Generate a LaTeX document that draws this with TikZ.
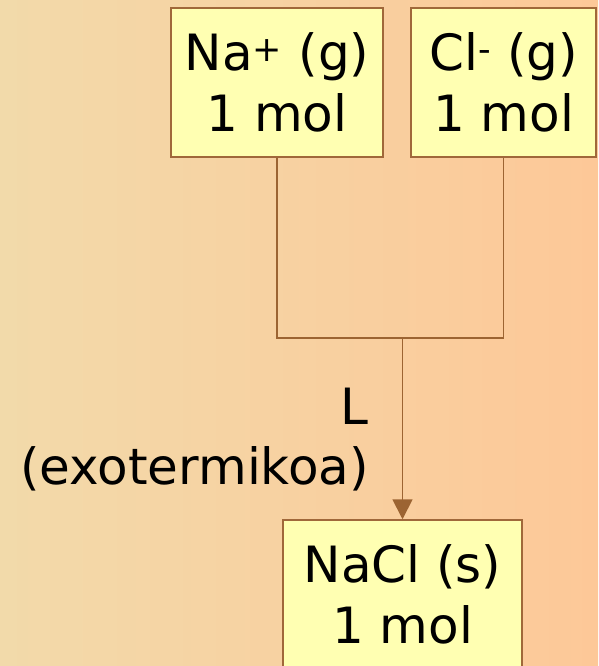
\documentclass[tikz,border=0pt]{standalone}
\usepackage{fontspec}
\setmainfont{DejaVu Sans}
\usetikzlibrary{arrows.meta}
\definecolor{bgleft}{RGB}{242,218,170}
\definecolor{bgright}{RGB}{253,200,152}
\definecolor{boxfill}{RGB}{255,255,178}
\definecolor{boxline}{RGB}{160,104,58}
\definecolor{linkline}{RGB}{156,100,50}
\tikzset{
  species/.style={draw=boxline, line width=1.5pt, fill=boxfill, align=center,
    inner sep=0pt, font=\fontsize{50}{61}\selectfont},
  link/.style={draw=linkline, line width=1.8pt},
  heatlabel/.style={align=right, inner sep=0pt, font=\fontsize{50}{60}\selectfont}
}
\begin{document}
\begin{tikzpicture}[x=1pt,y=-1pt]
\useasboundingbox (0,0) rectangle (598,666);
\shade[left color=bgleft, right color=bgright] (0,0) rectangle (598,666);
\node[species, minimum width=212pt, minimum height=149pt] (na) at (277,82.5) {Na\textsuperscript{+} (g)\\1 mol};
\node[species, minimum width=185pt, minimum height=149pt] (cl) at (503.5,82.5) {Cl\textsuperscript{-} (g)\\1 mol};
\node[species, minimum width=239pt, minimum height=149pt] (nacl) at (402.5,594.5) {NaCl (s)\\1 mol};
\coordinate (j) at (402.5,338);
\draw[link] (na.south) |- (j);
\draw[link] (cl.south) |- (j);
\draw[link, -{Triangle[width=20pt,length=20pt]}] (j) -- (nacl.north);
\node[heatlabel, anchor=east] (heat) at (369,440) {L\\(exotermikoa)};
\end{tikzpicture}
\end{document}
